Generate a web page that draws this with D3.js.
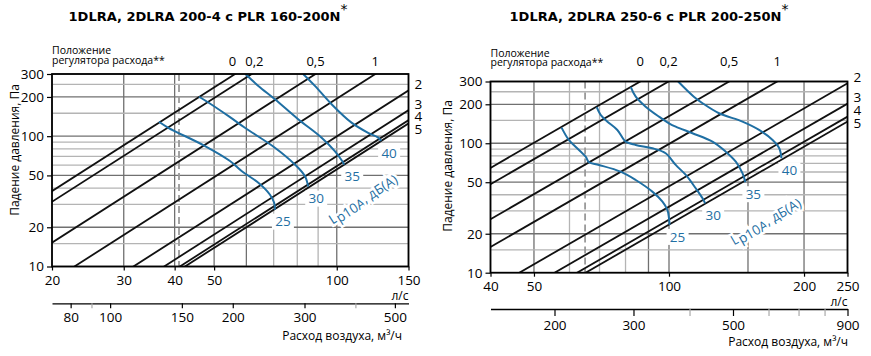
<!DOCTYPE html>
<html>
<head>
<meta charset="utf-8">
<script src="https://cdn.jsdelivr.net/npm/d3@7"></script>
<style>
  body { margin: 0; background: #fff; }
  svg { display: block; }
</style>
</head>
<body>
<svg id="chart" width="871" height="356"></svg>
<script>
// shared values
const pressureTicks = [10, 20, 50, 100, 200, 300];
const pressureGrid = [10, 15, 20, 30, 40, 50, 60, 70, 80, 90, 100, 150, 200, 250, 300];
const pressureMajor = [20, 50, 100, 200];
const positionLabels = ['0', '0,2', '0,5', '1', '2', '3', '4', '5'];
const noiseLevels = ['25', '30', '35', '40'];

// 1DLRA, 2DLRA 200-4 (left)
const flowTicksA = [20, 30, 40, 50, 100, 150];
const flowGridA = [20, 30, 40, 50, 60, 70, 80, 90, 100, 150];
const flowMajorA = [30, 40, 50, 60, 100];
const m3hTicksA = [80, 100, 150, 200, 300, 500];
const m3hMinorA = [90, 400];
// flow (l/s) at which each regulator line reaches 100 Pa
const lineFlowA = [32.5, 35.7, 51.2, 71.8, 100.2, 119.2, 130.3, 134.1];
const dashedFlowA = 41;
const noiseA = [
  [[36.6, 129], [38.6, 116], [47.5, 84], [54.7, 64.5], [58.4, 54], [64.2, 43.9], [68.5, 35.7], [70.2, 30.8], [70.5, 27.3]],
  [[45.9, 200], [47.0, 192], [54.7, 140], [59.5, 116], [70.5, 81.6], [78.9, 60.7], [83.5, 49.4], [85.1, 41]],
  [[59.7, 300], [64.2, 243], [70.5, 192], [80.4, 135], [91.8, 97.4], [98.9, 76.9], [103.1, 64.5], [104.3, 60.5]],
  [[82.7, 300], [88.4, 243], [97.1, 176], [108.7, 127], [119.4, 106], [126.4, 97.4], [128.5, 92]]
];

// 1DLRA, 2DLRA 250-6 (right)
const flowTicksB = [40, 50, 100, 200, 250];
const flowGridB = [40, 50, 60, 70, 80, 90, 100, 150, 200, 250];
const flowMajorB = [50, 90, 100, 150, 200];
const m3hTicksB = [200, 300, 500, 900];
const m3hMinorB = [400, 600, 700, 800];
const lineFlowB = [49.8, 57.6, 78.6, 100.6, 146.7, 175.8, 197.3, 206.2];
const dashedFlowB = 65;
const noiseB = [
  [[57.6, 132], [59.8, 106], [61.9, 94.1], [65.2, 78.8], [66.3, 71.3], [69.8, 68], [78, 60.3], [84.3, 52], [91.8, 42.3], [96.7, 35.4], [99.2, 30.5], [100, 26.3], [100.3, 23.4]],
  [[69, 190], [70.4, 165.5], [72.9, 146.9], [76.7, 126.7], [80.1, 102.9], [84.3, 97], [91.8, 91.5], [98.3, 83.7], [103.5, 68], [109, 56.9], [114.7, 44.9], [118.8, 37.6], [120.4, 34.3]],
  [[82.2, 272], [84.3, 229], [88.7, 191.8], [95, 160.5], [100, 142.7], [103.5, 134.4], [112.8, 119.5], [125, 102.9], [133.8, 86.1], [140.9, 72.1], [145.8, 58.7], [148, 50]],
  [[104.8, 300], [113.6, 229], [118.8, 203.8], [129.3, 170.5], [145.8, 146.9], [158.8, 126.7], [170.2, 106], [176.1, 91.5], [178.1, 76.6]]
];

const FONT = "'Open Sans', 'Noto Sans', sans-serif";
const BLUE = '#1f6fa3';
const svg = d3.select('#chart').attr('font-family', FONT);
svg.append('rect').attr('width', 871).attr('height', 356).attr('fill', '#fff');

function styleAxis(ax, size) {
  ax.attr('font-family', FONT).attr('font-size', size);
  ax.selectAll('.tick line').attr('stroke', '#000').attr('stroke-width', 1.2);
  ax.selectAll('text').attr('fill', '#000');
}

function drawChart(c) {
  const g = svg.append('g');
  const x = d3.scaleLog().domain(c.flowDomain).range([c.left, c.right]);
  const y = d3.scaleLog().domain([10, 300]).range([c.bottom, c.top]);
  const xm = d3.scaleLog().domain(c.flowDomain.map(v => v * 3.6)).range([c.left, c.right]);
  const w = c.right - c.left;
  const h = c.bottom - c.top;

  g.append('clipPath').attr('id', 'clip-' + c.id)
    .append('rect').attr('x', c.left).attr('y', c.top).attr('width', w).attr('height', h);

  // title
  const t = g.append('text').attr('x', c.titleX).attr('y', 21).attr('text-anchor', 'middle')
    .attr('font-family', 'DejaVu Sans, sans-serif').attr('font-weight', 'bold').attr('font-size', 13);
  t.append('tspan').text(c.title);
  t.append('tspan').attr('dy', -7).attr('font-size', 14).attr('font-weight', 'normal').text('*');

  // grid
  g.append('g').selectAll('line').data(c.flowGrid).join('line')
    .attr('x1', d => x(d)).attr('x2', d => x(d)).attr('y1', c.top).attr('y2', c.bottom)
    .attr('stroke', d => c.flowMajor.includes(d) ? '#707070' : '#b4b4b4').attr('stroke-width', 1.3);
  g.append('g').selectAll('line').data(pressureGrid).join('line')
    .attr('x1', c.left).attr('x2', c.right).attr('y1', d => y(d)).attr('y2', d => y(d))
    .attr('stroke', d => pressureMajor.includes(d) ? '#707070' : '#b4b4b4').attr('stroke-width', 1.3);

  g.append('line').attr('x1', x(c.dashed)).attr('x2', x(c.dashed)).attr('y1', c.top).attr('y2', c.bottom)
    .attr('stroke', '#9a9a9a').attr('stroke-width', 1.8).attr('stroke-dasharray', '7,4');

  // regulator position lines, dp = 100 * (q / q100)^2
  const plot = g.append('g').attr('clip-path', `url(#clip-${c.id})`);
  const straight = d3.line().x(d => x(d[0])).y(d => y(d[1]));
  plot.selectAll('path.reg').data(c.lines).join('path').attr('class', 'reg')
    .attr('d', q100 => straight([c.flowDomain[0] / 2, c.flowDomain[1] * 2].map(q => [q, 100 * (q / q100) ** 2])))
    .attr('fill', 'none').attr('stroke', '#111').attr('stroke-width', 1.8);

  const curve = d3.line().x(d => x(d[0])).y(d => y(d[1])).curve(d3.curveCatmullRom.alpha(0.5));
  plot.selectAll('path.noise').data(c.noise).join('path').attr('class', 'noise')
    .attr('d', curve).attr('fill', 'none').attr('stroke', BLUE).attr('stroke-width', 2);

  g.append('rect').attr('x', c.left).attr('y', c.top).attr('width', w).attr('height', h)
    .attr('fill', 'none').attr('stroke', '#000').attr('stroke-width', 1.8);

  // noise labels
  c.noise.forEach((pts, i) => {
    const end = pts[pts.length - 1];
    const lx = x(end[0]) + 8, ly = y(end[1]) + 12;
    g.append('rect').attr('x', lx - 11).attr('y', ly - 8).attr('width', 22).attr('height', 16).attr('fill', '#fff');
    g.append('text').attr('x', lx).attr('y', ly).attr('dy', '0.35em').attr('text-anchor', 'middle')
      .attr('font-size', 13.5).attr('fill', BLUE).text(noiseLevels[i]);
  });
  const ang = -Math.atan(2 * h / Math.log10(300 / 10) / (w / Math.log10(c.flowDomain[1] / c.flowDomain[0]))) * 180 / Math.PI;
  const lp = g.append('text')
    .attr('transform', `translate(${x(c.lpAt[0])},${y(c.lpAt[1])}) rotate(${ang})`)
    .attr('text-anchor', 'middle').attr('dy', '0.35em').attr('font-size', 13.5).attr('fill', BLUE)
    .attr('stroke', '#fff').attr('stroke-width', 5).attr('paint-order', 'stroke');
  lp.append('tspan').text('L');
  lp.append('tspan').attr('dy', 2.5).text('p10A');
  lp.append('tspan').attr('dy', -2.5).text(', дБ(А)');

  // position labels
  const topLabels = [], sideLabels = [];
  c.lines.forEach((q100, i) => {
    const q300 = q100 * Math.sqrt(3);
    if (q300 <= c.flowDomain[1]) topLabels.push({ x: x(q300), text: positionLabels[i] });
    else sideLabels.push({ y: y(100 * (c.flowDomain[1] / q100) ** 2) - 6, text: positionLabels[i] });
  });
  topLabels.forEach((d, i) => {
    if (i === 0) return;
    const gap = d.x - topLabels[i - 1].x;
    if (gap < 22) { topLabels[i - 1].x -= (22 - gap) / 2; d.x += (22 - gap) / 2; }
  });
  g.append('g').selectAll('text').data(topLabels).join('text')
    .attr('x', d => d.x).attr('y', 66).attr('text-anchor', 'middle').attr('font-size', 13).text(d => d.text);
  sideLabels.forEach((d, i) => { if (i > 0) d.y = Math.max(d.y, sideLabels[i - 1].y + 12.5); });
  g.append('g').selectAll('text').data(sideLabels).join('text')
    .attr('x', c.right + 6).attr('y', d => d.y).attr('dy', '0.35em').attr('font-size', 13.5).text(d => d.text);

  const cap = g.append('text').attr('x', c.left).attr('font-size', 10.5);
  cap.append('tspan').attr('x', c.left).attr('y', c.captionY[0]).text('Положение');
  cap.append('tspan').attr('x', c.left).attr('y', c.captionY[1]).text('регулятора расхода**');

  // axes
  const ay = g.append('g').attr('transform', `translate(${c.left},0)`)
    .call(d3.axisLeft(y).tickValues(pressureTicks).tickFormat(d3.format('d')).tickSize(5).tickPadding(3));
  ay.select('.domain').remove();
  styleAxis(ay, 13.5);

  g.append('text').attr('transform', `translate(${c.yTitle[0]},${c.yTitle[1]}) rotate(-90)`)
    .attr('text-anchor', 'middle').attr('dy', '0.35em').attr('font-size', 12).text('Падение давления, Па');

  const ax = g.append('g').attr('transform', `translate(0,${c.bottom})`)
    .call(d3.axisBottom(x).tickValues(c.flowTicks).tickFormat(d3.format('d')).tickSize(4).tickPadding(4.5));
  ax.select('.domain').remove();
  styleAxis(ax, 13.5);
  g.append('text').attr('x', c.right).attr('y', c.bottom + 33.5).attr('text-anchor', 'end')
    .attr('font-size', 12).text('л/с');

  const am = g.append('g').attr('transform', `translate(0,${c.m3hY})`)
    .call(d3.axisBottom(xm).tickValues(c.m3hTicks).tickFormat(d3.format('d')).tickSize(c.m3hTick).tickSizeOuter(0).tickPadding(4));
  am.select('.domain').attr('stroke', '#000').attr('stroke-width', 1.3);
  styleAxis(am, 13.5);
  const amMinor = g.append('g').attr('transform', `translate(0,${c.m3hY})`)
    .call(d3.axisBottom(xm).tickValues(c.m3hMinor).tickFormat('').tickSize(c.m3hTick).tickSizeOuter(0));
  amMinor.select('.domain').remove();
  amMinor.selectAll('.tick line').attr('stroke', '#aaa').attr('stroke-width', 1.2);
  g.append('text').attr('x', c.airX).attr('y', c.airY).attr('text-anchor', 'end')
    .attr('font-size', 12).text('Расход воздуха, м³/ч');
}

drawChart({
  id: 'a', title: '1DLRA, 2DLRA 200-4 с PLR 160-200N', titleX: 208,
  left: 52, right: 408.5, top: 74, bottom: 266.5, flowDomain: [20, 150],
  flowTicks: flowTicksA, flowGrid: flowGridA, flowMajor: flowMajorA,
  m3hTicks: m3hTicksA, m3hMinor: m3hMinorA, m3hY: 303.3, m3hTick: 5,
  lines: lineFlowA, dashed: dashedFlowA, noise: noiseA,
  lpAt: [116, 32.7], captionY: [53.5, 63.5], yTitle: [15, 150], airX: 402, airY: 340
});

drawChart({
  id: 'b', title: '1DLRA, 2DLRA 250-6 с PLR 200-250N', titleX: 649,
  left: 490.5, right: 847.5, top: 81.5, bottom: 272.7, flowDomain: [40, 250],
  flowTicks: flowTicksB, flowGrid: flowGridB, flowMajor: flowMajorB,
  m3hTicks: m3hTicksB, m3hMinor: m3hMinorB, m3hY: 309, m3hTick: 7,
  lines: lineFlowB, dashed: dashedFlowB, noise: noiseB,
  lpAt: [164.4, 24.8], captionY: [56.5, 66], yTitle: [448, 166], airX: 848, airY: 346
});
</script>
</body>
</html>
